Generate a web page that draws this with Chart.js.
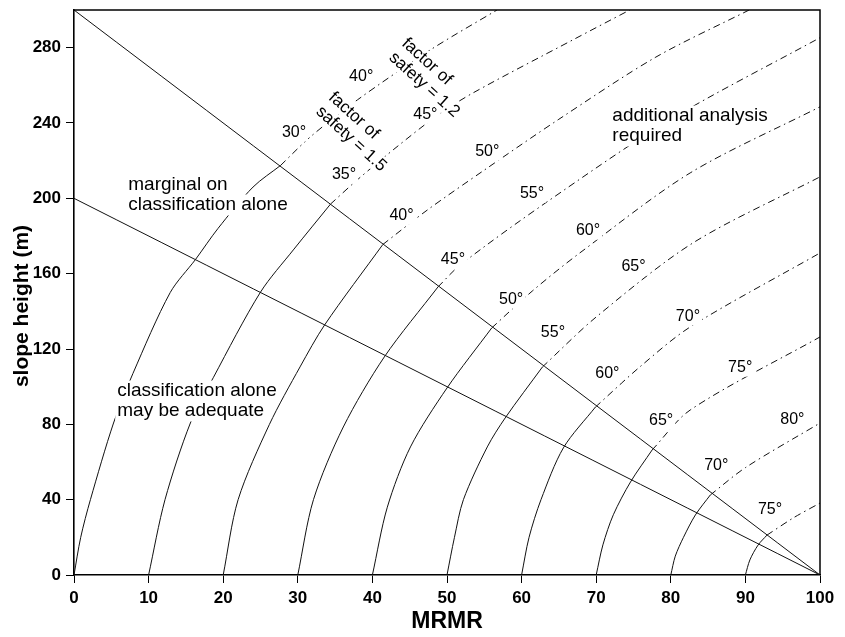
<!DOCTYPE html>
<html>
<head>
<meta charset="utf-8">
<script src="https://cdn.jsdelivr.net/npm/chart.js@4.4.1/dist/chart.umd.min.js"></script>
<style>
  html, body { margin: 0; padding: 0; background: #fff; }
  #wrap { width: 845px; height: 637px; }
</style>
</head>
<body>
<div id="wrap"><canvas id="chart" width="845" height="637"></canvas></div>
<script>
const FONT = '"Liberation Sans", Arial, Helvetica, sans-serif';

// axis ticks
const xTickValues = [0, 10, 20, 30, 40, 50, 60, 70, 80, 90, 100];
const yTickValues = [0, 40, 80, 120, 160, 200, 240, 280];

// straight limit lines (MRMR, slope height)
const upperLimit = [[0, 300], [100, 0]];
const lowerLimit = [[0, 200], [100, 0]];

// slope-angle arcs: solid below the upper limit, dash-dot above it
const arc00Solid = [[0, 0], [0.9, 20], [2.2, 40], [5.3, 80.7], [7.9, 107], [12.9, 150], [16.3, 167.6], [19.3, 184], [24.0, 206], [27.7, 217.5]];
const arc00Dash  = [[27.7, 217.5], [31.7, 232.7], [38.0, 252.3], [47.8, 278.9], [56.7, 300]];
const arc10Solid = [[10, 0], [12.2, 40], [15.6, 80.7], [18.7, 105], [25.0, 150.2], [29.4, 172.6], [34.4, 197]];
const arc10Dash  = [[34.4, 197], [38.0, 209.9], [43.3, 227.4], [48.7, 244], [53.5, 256], [66.9, 284.2], [74.5, 300]];
const arc20Solid = [[20, 0], [22.0, 40], [26.2, 80], [30.3, 110.5], [33.6, 132.8], [41.4, 175.5]];
const arc20Dash  = [[41.4, 175.5], [47.4, 193.9], [55, 215], [65, 242], [78, 275], [90.5, 300]];
const arc30Solid = [[30, 0], [32.1, 40], [36.1, 78.6], [41.6, 115.8], [48.8, 153]];
const arc30Dash  = [[48.8, 153], [51.8, 164.7], [63.4, 198.1], [80, 242], [100, 285.3]];
const arc40Solid = [[40, 0], [42.0, 36], [45.1, 68], [50.0, 99.3], [56.0, 131.2]];
const arc40Dash  = [[56.0, 131.2], [61.5, 151], [67.8, 171], [82.6, 213.5], [100, 248.6]];
const arc50Solid = [[50, 0], [51.0, 20], [52.2, 40], [55.4, 68], [57.8, 83.4], [62.8, 110.5]];
const arc50Dash  = [[62.8, 110.5], [70, 137], [83, 176.4], [100, 211.4]];
const arc60Solid = [[60, 0], [61.0, 20], [62.6, 40], [65.6, 67.5], [69.9, 89.2]];
const arc60Dash  = [[69.9, 89.2], [76, 111], [82.6, 131.7], [100, 171]];
const arc70Solid = [[70, 0], [70.9, 16], [72.3, 32], [74.6, 49.4], [77.5, 66.4]];
const arc70Dash  = [[77.5, 66.4], [82.6, 87.6], [100, 126.4]];
const arc80Solid = [[80, 0], [80.6, 10], [81.7, 20], [83.3, 31.9], [85.3, 42.5]];
const arc80Dash  = [[85.3, 42.5], [90, 57], [100, 80.7]];
const arc90Solid = [[90, 0], [90.6, 8], [91.7, 15.9], [92.9, 21.2]];
const arc90Dash  = [[92.9, 21.2], [96.5, 30.5], [100, 38.2]];

// slope-angle labels at factor of safety 1.5 and 1.2
const angleLabels15 = ['30°', '35°', '40°', '45°', '50°', '55°', '60°', '65°', '70°', '75°'];
const angleAt15X = [29.5, 36.2, 43.9, 50.8, 58.6, 64.2, 71.5, 78.7, 86.1, 93.3];
const angleAt15Y = [234.8, 212.5, 190.7, 167.3, 146.1, 128.6, 106.8, 81.8, 57.9, 34.5];
const angleLabels12 = ['40°', '45°', '50°', '55°', '60°', '65°', '70°', '75°', '80°'];
const angleAt12X = [38.5, 47.1, 55.4, 61.4, 68.9, 75.0, 82.3, 89.3, 96.3];
const angleAt12Y = [264.5, 244.4, 224.7, 202.4, 182.7, 163.6, 137.1, 110.0, 82.3];

const DASH_DOT = [7, 4, 1.5, 4];

function lineSet(points, dashed) {
  return {
    data: points.map(p => ({ x: p[0], y: p[1] })),
    showLine: true,
    borderColor: '#111',
    borderWidth: 1,
    pointRadius: 0,
    fill: false,
    tension: 0.3,
    borderDash: dashed ? DASH_DOT : []
  };
}

const datasets = [
  lineSet(upperLimit, false),
  lineSet(lowerLimit, false),
  lineSet(arc00Solid, false), lineSet(arc00Dash, true),
  lineSet(arc10Solid, false), lineSet(arc10Dash, true),
  lineSet(arc20Solid, false), lineSet(arc20Dash, true),
  lineSet(arc30Solid, false), lineSet(arc30Dash, true),
  lineSet(arc40Solid, false), lineSet(arc40Dash, true),
  lineSet(arc50Solid, false), lineSet(arc50Dash, true),
  lineSet(arc60Solid, false), lineSet(arc60Dash, true),
  lineSet(arc70Solid, false), lineSet(arc70Dash, true),
  lineSet(arc80Solid, false), lineSet(arc80Dash, true),
  lineSet(arc90Solid, false), lineSet(arc90Dash, true)
];

// text drawn over the lines on a white patch, leaving a gap in the line
function gapText(ctx, lines, cx, cy, size, weight, angle, align, lineH) {
  ctx.save();
  ctx.translate(cx, cy);
  ctx.rotate(angle * Math.PI / 180);
  ctx.font = weight + ' ' + size + 'px ' + FONT;
  ctx.textBaseline = 'middle';
  const h = lineH || size * 1.15;
  const widths = lines.map(t => ctx.measureText(t).width);
  const maxW = Math.max(...widths);
  const totalH = h * lines.length;
  ctx.fillStyle = '#fff';
  lines.forEach((t, i) => {
    const y = -totalH / 2 + h * (i + 0.5);
    const x = align === 'left' ? -maxW / 2 : -widths[i] / 2;
    ctx.fillRect(x - 2, y - size * 0.55, widths[i] + 4, size * 1.1);
  });
  ctx.fillStyle = '#000';
  ctx.textAlign = 'left';
  lines.forEach((t, i) => {
    const y = -totalH / 2 + h * (i + 0.5);
    const x = align === 'left' ? -maxW / 2 : -widths[i] / 2;
    ctx.fillText(t, x, y);
  });
  ctx.restore();
}

const chartText = {
  id: 'chartText',
  afterDatasetsDraw(chart) {
    const { ctx, chartArea: a, scales: { x, y } } = chart;
    // frame on the top and right
    ctx.save();
    ctx.strokeStyle = '#000';
    ctx.lineWidth = 1.5;
    ctx.beginPath();
    ctx.moveTo(a.left, a.top);
    ctx.lineTo(a.right, a.top);
    ctx.lineTo(a.right, a.bottom);
    ctx.stroke();
    ctx.restore();

    angleLabels15.forEach((t, i) =>
      gapText(ctx, [t], x.getPixelForValue(angleAt15X[i]), y.getPixelForValue(angleAt15Y[i]), 16, 'normal', 0));
    angleLabels12.forEach((t, i) =>
      gapText(ctx, [t], x.getPixelForValue(angleAt12X[i]), y.getPixelForValue(angleAt12Y[i]), 16, 'normal', 0));

    gapText(ctx, ['factor of', 'safety = 1.5'], x.getPixelForValue(38.0), y.getPixelForValue(235.3), 17, 'normal', 42, 'left', 19);
    gapText(ctx, ['factor of', 'safety = 1.2'], x.getPixelForValue(47.8), y.getPixelForValue(264.0), 17, 'normal', 42, 'left', 19);

    gapText(ctx, ['marginal on', 'classification alone'], 208, 195, 19, 'normal', 0, 'left', 20);
    gapText(ctx, ['classification alone', 'may be adequate'], 197, 401, 19, 'normal', 0, 'left', 20);
    gapText(ctx, ['additional analysis', 'required'], 690, 126, 19, 'normal', 0, 'left', 20);

    // axis titles
    ctx.save();
    ctx.fillStyle = '#000';
    ctx.textAlign = 'center';
    ctx.textBaseline = 'middle';
    ctx.font = 'bold 23px ' + FONT;
    ctx.fillText('MRMR', (a.left + a.right) / 2, 622);
    ctx.translate(22, 306);
    ctx.rotate(-Math.PI / 2);
    ctx.font = 'bold 21px ' + FONT;
    ctx.fillText('slope height (m)', 0, 0);
    ctx.restore();
  }
};

const axisCommon = {
  type: 'linear',
  grid: { display: true, drawOnChartArea: false, drawTicks: true, tickLength: 8, color: '#000', lineWidth: 1 },
  border: { display: true, color: '#000', width: 1.6 },
  ticks: { color: '#000', font: { family: FONT, size: 17, weight: 'bold' }, autoSkip: false, maxRotation: 0 }
};

function noEdgePadding(s) {
  s.paddingTop = 0;
  s.paddingBottom = 0;
}

new Chart(document.getElementById('chart'), {
  type: 'scatter',
  data: { datasets },
  options: {
    responsive: false,
    animation: false,
    events: [],
    layout: { padding: { top: 10, right: 25, left: 0, bottom: 0 } },
    plugins: { legend: { display: false }, tooltip: { enabled: false } },
    scales: {
      x: Object.assign({}, axisCommon, {
        position: 'bottom', min: 0, max: 100,
        ticks: Object.assign({}, axisCommon.ticks, { padding: 5 }),
        afterBuildTicks: s => { s.ticks = xTickValues.map(v => ({ value: v })); },
        afterFit: s => { s.height = 62; }
      }),
      y: Object.assign({}, axisCommon, {
        position: 'left', min: 0, max: 300,
        ticks: Object.assign({}, axisCommon.ticks, { padding: 5 }),
        afterBuildTicks: s => { s.ticks = yTickValues.map(v => ({ value: v })); },
        afterFit: s => { s.width = 74; noEdgePadding(s); }
      })
    }
  },
  plugins: [chartText]
});
</script>
</body>
</html>
